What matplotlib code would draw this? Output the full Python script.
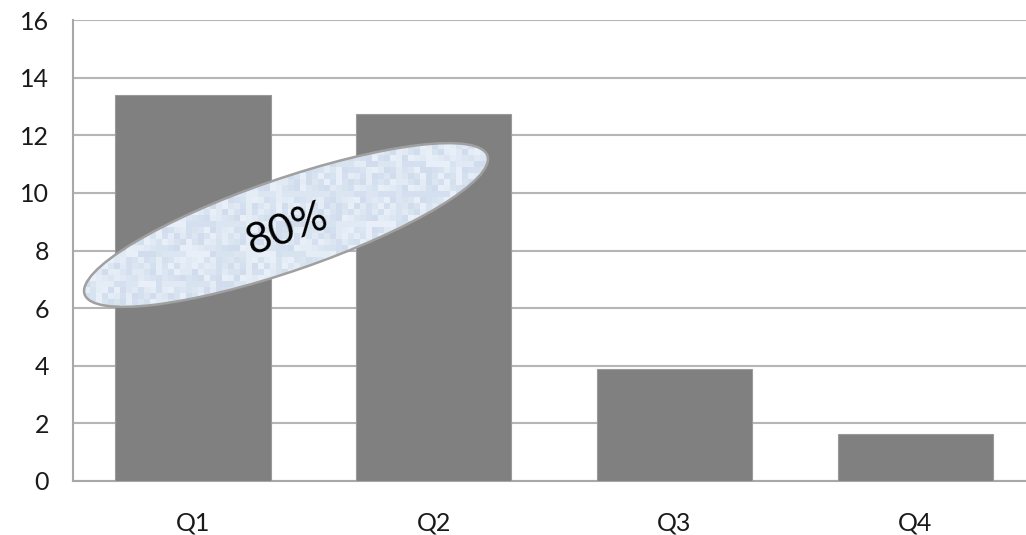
import matplotlib
matplotlib.use("Agg")
import numpy as np
import matplotlib.pyplot as plt
from matplotlib.patches import Ellipse
from matplotlib.transforms import IdentityTransform

categories = ["Q1", "Q2", "Q3", "Q4"]
values = [13.4, 12.75, 3.88, 1.63]
yticks = [0, 2, 4, 6, 8, 10, 12, 14, 16]
callout_text = "80%"

plt.rcParams['font.family'] = ['Lato', 'DejaVu Sans']

fig = plt.figure(figsize=(10.26, 5.35), dpi=100)
ax = fig.add_axes([72.6/1026, 54/535, 963/1026, 461/535])

x = range(len(categories))
ax.bar(x, values, width=0.645, color='#808080', edgecolor='#9a9a9a', linewidth=0.8, zorder=3)
ax.set_xlim(-0.5, len(categories) - 0.5)
ax.set_ylim(0, 16)
ax.set_yticks(yticks)
ax.set_yticklabels([str(t) for t in yticks], fontsize=18)
ax.set_xticks(list(x))
ax.set_xticklabels(categories, fontsize=18)
ax.tick_params(axis='both', length=0, colors='#1a1a1a')
ax.tick_params(axis='y', pad=17)
ax.tick_params(axis='x', pad=22)
ax.grid(axis='y', color='#b5b5b5', linewidth=1.5, zorder=0)
for s in ['top', 'right']:
    ax.spines[s].set_visible(False)
for s in ['left', 'bottom']:
    ax.spines[s].set_color('#a8a8a8')
    ax.spines[s].set_linewidth(1.5)

# callout ellipse with a light textured fill
ell = Ellipse((286, 310), 426, 92, angle=19, transform=IdentityTransform(),
              facecolor='#d6e3f0', edgecolor='none', zorder=10)
fig.add_artist(ell)
rows, cols, cell = 45, 80, 6
ii, jj = np.indices((rows, cols))
pat = ((ii * 7 + jj * 13 + (ii * jj) % 5 + (ii // 3) * (jj // 4)) % 7) / 6.0
tex = np.empty((rows, cols, 3))
c1 = np.array([0.82, 0.87, 0.93])
c2 = np.array([0.91, 0.94, 0.975])
for k in range(3):
    tex[..., k] = c1[k] + (c2[k] - c1[k]) * pat
tex = np.repeat(np.repeat(tex, cell, axis=0), cell, axis=1)
im = fig.figimage(tex, xo=66, yo=170, zorder=10.5)
clip = Ellipse((286, 310), 425, 91, angle=19, transform=IdentityTransform())
im.set_clip_path(clip)
ell2 = Ellipse((286, 310), 426, 92, angle=19, transform=IdentityTransform(),
               facecolor='none', edgecolor='#a0a0a0', linewidth=1.8, zorder=10.8)
fig.add_artist(ell2)
fig.text(287/1026, 306/535, callout_text, fontsize=31, rotation=20,
         ha='center', va='center', color='black', zorder=11,
         rotation_mode='anchor')

fig.savefig("out.png", dpi=100)
